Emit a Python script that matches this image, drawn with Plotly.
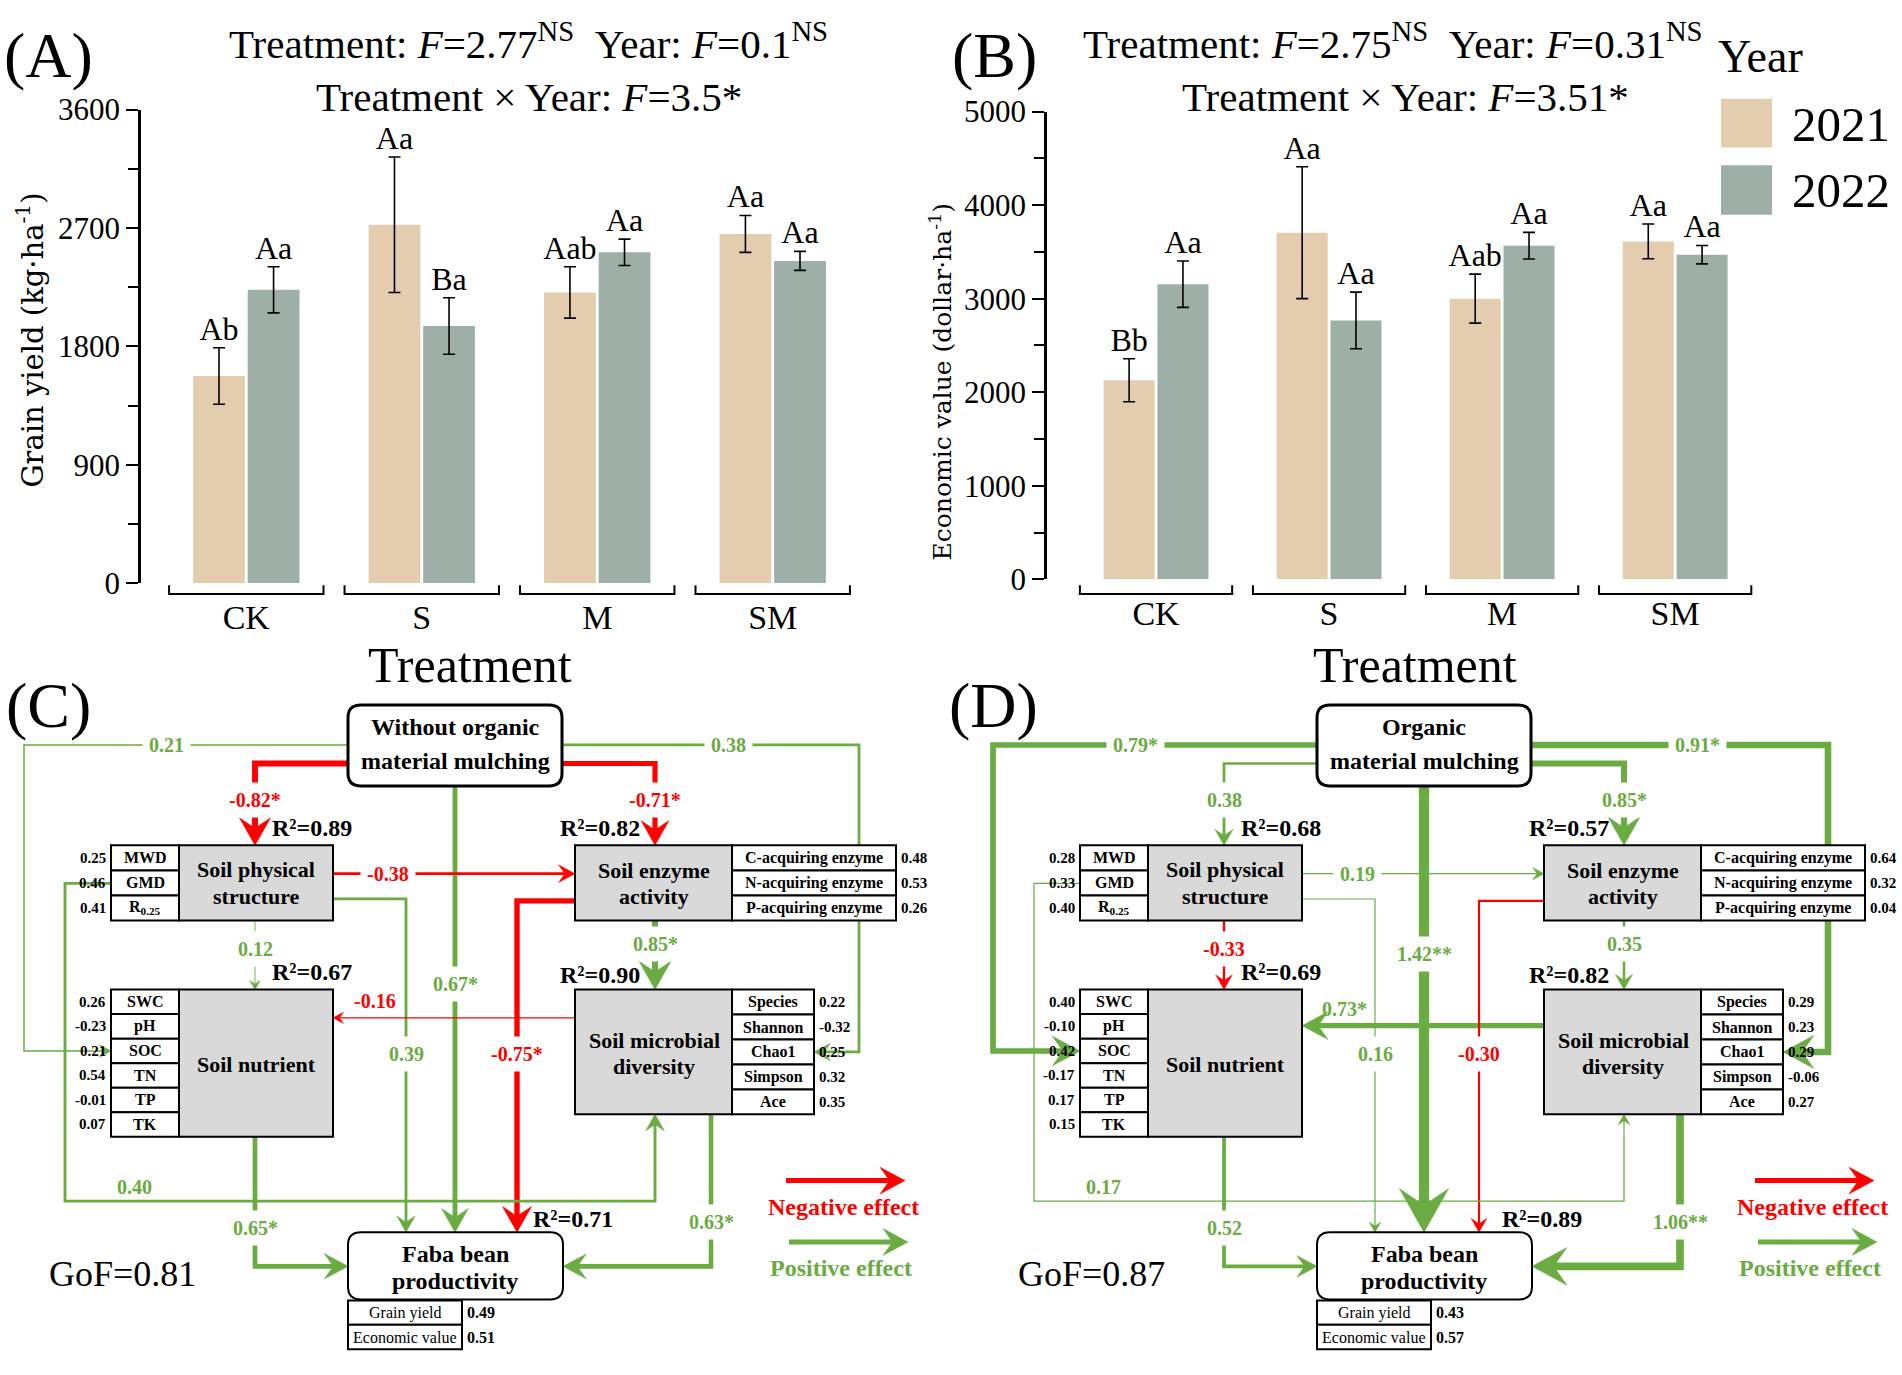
import math
import plotly.graph_objects as go

W, H = 1902, 1375
SERIF = "Liberation Serif"
GREEN = "#6aab42"
RED = "#ff0000"
C2021 = "#e3cdae"
C2022 = "#9eafa8"

# ---------------- data: bar panels (A, B) ----------------
treatments = ["CK", "S", "M", "SM"]
years = ["2021", "2022"]

grain_2021 = [1575, 2725, 2210, 2655]
grain_2021_se = [215, 515, 195, 140]
grain_2022 = [2230, 1955, 2515, 2450]
grain_2022_se = [175, 215, 100, 72]
grain_letters_2021 = ["Ab", "Aa", "Aab", "Aa"]
grain_letters_2022 = ["Aa", "Ba", "Aa", "Aa"]

econ_2021 = [2128, 3705, 3000, 3612]
econ_2021_se = [230, 705, 262, 186]
econ_2022 = [3155, 2767, 3566, 3470]
econ_2022_se = [248, 303, 142, 98]
econ_letters_2021 = ["Bb", "Aa", "Aab", "Aa"]
econ_letters_2022 = ["Aa", "Aa", "Aa", "Aa"]

# ---------------- data: path models (C, D) ----------------
path_keys = ["mulch_nut", "mulch_sps", "mulch_sea", "mulch_mic", "mulch_faba", "sps_sea", "sps_faba",
             "sps_nut", "sea_mic", "mic_nut", "sea_faba", "sps_mic", "nut_faba", "mic_faba"]
coef_c = [0.21, -0.82, -0.71, 0.38, 0.67, -0.38, 0.39, 0.12, 0.85, -0.16, -0.75, 0.40, 0.65, 0.63]
sig_c = ["", "*", "*", "", "*", "", "", "", "*", "", "*", "", "*", "*"]
coef_d = [0.79, 0.38, 0.85, 0.91, 1.42, 0.19, 0.16, -0.33, 0.35, 0.73, -0.30, 0.17, 0.52, 1.06]
sig_d = ["*", "", "*", "*", "**", "", "", "", "", "*", "", "", "", "**"]

r2_keys = ["sps", "sea", "nut", "mic", "faba"]
r2_c = [0.89, 0.82, 0.67, 0.90, 0.71]
r2_d = [0.68, 0.57, 0.69, 0.82, 0.89]

sps_items = ["MWD", "GMD", "R<sub>0.25</sub>"]
sps_load_c = [0.25, 0.46, 0.41]
sps_load_d = [0.28, 0.33, 0.40]
nut_items = ["SWC", "pH", "SOC", "TN", "TP", "TK"]
nut_load_c = [0.26, -0.23, 0.21, 0.54, -0.01, 0.07]
nut_load_d = [0.40, -0.10, 0.42, -0.17, 0.17, 0.15]
sea_items = ["C-acquiring enzyme", "N-acquiring enzyme", "P-acquiring enzyme"]
sea_load_c = [0.48, 0.53, 0.26]
sea_load_d = [0.64, 0.32, 0.04]
mic_items = ["Species", "Shannon", "Chao1", "Simpson", "Ace"]
mic_load_c = [0.22, -0.32, 0.25, 0.32, 0.35]
mic_load_d = [0.29, 0.23, 0.29, -0.06, 0.27]
faba_items = ["Grain yield", "Economic value"]
faba_load_c = [0.49, 0.51]
faba_load_d = [0.43, 0.57]
gof_c = 0.81
gof_d = 0.87


def X(x):
    return x / W


def Y(y):
    return 1 - y / H


shapes = []
notes = []


def txt(x, y, s, size, color="black", bold=False, xanchor="center", yanchor="middle",
        bg=None, family=SERIF, angle=0, pad=1):
    if bold:
        s = "<b>" + s + "</b>"
    a = dict(x=X(x), y=Y(y), xref="paper", yref="paper", text=s, showarrow=False,
             font=dict(family=family, size=size, color=color), xanchor=xanchor,
             yanchor=yanchor, textangle=angle, borderpad=pad)
    if bg:
        a["bgcolor"] = bg
    notes.append(a)


def rect(x0, y0, x1, y1, fill, lw=2):
    shapes.append(dict(type="rect", xref="paper", yref="paper", x0=X(x0), x1=X(x1),
                       y0=Y(y0), y1=Y(y1), fillcolor=fill, line=dict(color="black", width=lw)))


def rrect(x0, y0, x1, y1, r, lw):
    p = (f"M {X(x0 + r)},{Y(y0)} L {X(x1 - r)},{Y(y0)} Q {X(x1)},{Y(y0)} {X(x1)},{Y(y0 + r)} "
         f"L {X(x1)},{Y(y1 - r)} Q {X(x1)},{Y(y1)} {X(x1 - r)},{Y(y1)} "
         f"L {X(x0 + r)},{Y(y1)} Q {X(x0)},{Y(y1)} {X(x0)},{Y(y1 - r)} "
         f"L {X(x0)},{Y(y0 + r)} Q {X(x0)},{Y(y0)} {X(x0 + r)},{Y(y0)} Z")
    shapes.append(dict(type="path", xref="paper", yref="paper", path=p, fillcolor="white",
                       line=dict(color="black", width=lw)))


def arrow(pts, w, color):
    (xa, ya), (xb, yb) = pts[-2], pts[-1]
    ln = math.hypot(xb - xa, yb - ya)
    ux, uy = (xb - xa) / ln, (yb - ya) / ln
    nx, ny = -uy, ux
    L = 6 + 3.8 * w
    hw = 0.55 * L
    line_pts = pts[:-1] + [(xb - ux * L * 0.5, yb - uy * L * 0.5)]
    p = "M " + " L ".join(f"{X(x)},{Y(y)}" for x, y in line_pts)
    shapes.append(dict(type="path", xref="paper", yref="paper", path=p,
                       line=dict(color=color, width=w)))
    bx, by = xb - ux * L, yb - uy * L
    qx, qy = xb - ux * L * 0.62, yb - uy * L * 0.62
    head = (f"M {X(xb)},{Y(yb)} L {X(bx + nx * hw)},{Y(by + ny * hw)} L {X(qx)},{Y(qy)} "
            f"L {X(bx - nx * hw)},{Y(by - ny * hw)} Z")
    shapes.append(dict(type="path", xref="paper", yref="paper", path=head, fillcolor=color,
                       line=dict(color=color, width=0.5)))


fig = go.Figure()

# ---------------- bar panels ----------------
BAR_W = 0.295
OFF = BAR_W / 2 + 0.008
idx = list(range(len(treatments)))
bar_panels = [
    dict(xa="x", ya="y", v1=grain_2021, e1=grain_2021_se, v2=grain_2022, e2=grain_2022_se,
         l1=grain_letters_2021, l2=grain_letters_2022),
    dict(xa="x2", ya="y2", v1=econ_2021, e1=econ_2021_se, v2=econ_2022, e2=econ_2022_se,
         l1=econ_letters_2021, l2=econ_letters_2022),
]
for bp in bar_panels:
    for yr, vals, errs, col, lets, sgn in [(years[0], bp["v1"], bp["e1"], C2021, bp["l1"], -1),
                                          (years[1], bp["v2"], bp["e2"], C2022, bp["l2"], 1)]:
        xs = [i + sgn * OFF for i in idx]
        fig.add_trace(go.Bar(x=xs, y=vals, width=BAR_W, name=yr, xaxis=bp["xa"], yaxis=bp["ya"],
                             marker=dict(color=col, line=dict(width=0)), showlegend=False,
                             error_y=dict(type="data", array=errs, color="black", thickness=1.6, width=6)))
        fig.add_trace(go.Scatter(x=xs, y=[v + e for v, e in zip(vals, errs)], mode="text", text=lets,
                                 textposition="top center", xaxis=bp["xa"], yaxis=bp["ya"],
                                 textfont=dict(family=SERIF, size=32, color="black"),
                                 showlegend=False, cliponaxis=False, hoverinfo="skip"))
    # bracket-style category axis
    for i in idx:
        p = (f"M {i - 0.44},{Y(583)} L {i - 0.44},{Y(592)} L {i + 0.44},{Y(592)} "
             f"L {i + 0.44},{Y(583)}")
        shapes.append(dict(type="path", xref=bp["xa"], yref="paper", path=p,
                           line=dict(color="black", width=2)))

xcommon = dict(showgrid=False, zeroline=False, showline=False, ticks="outside", ticklen=4,
               tickcolor="rgba(0,0,0,0)", tickvals=idx, ticktext=treatments,
               tickfont=dict(family=SERIF, size=34, color="black"))
ycommon = dict(showgrid=False, zeroline=False, showline=True, linecolor="black", linewidth=2.5,
               ticks="outside", ticklen=12, tickwidth=2, tickcolor="black",
               tickfont=dict(family=SERIF, size=31, color="black"))

fig.update_layout(
    xaxis=dict(domain=[X(141), X(878)], range=[-0.6, 3.6], anchor="y", **xcommon),
    yaxis=dict(domain=[Y(581), Y(95)], range=[0, 3600], anchor="x",
               tickvals=[0, 900, 1800, 2700, 3600],
               minor=dict(tickvals=[450, 1350, 2250, 3150], ticks="outside", ticklen=10,
                          tickwidth=2, tickcolor="black"), **ycommon),
    xaxis2=dict(domain=[X(1047), X(1779)], range=[-0.63, 3.6], anchor="y2", **xcommon),
    yaxis2=dict(domain=[Y(577), Y(97)], range=[0, 5000], anchor="x2",
                tickvals=[0, 1000, 2000, 3000, 4000, 5000],
                minor=dict(tickvals=[500, 1500, 2500, 3500, 4500], ticks="outside", ticklen=10,
                           tickwidth=2, tickcolor="black"), **ycommon),
)

# titles, axis titles, panel letters
txt(528, 25, "Treatment: <i>F</i>=2.77<sup>NS</sup>&nbsp;&nbsp;Year: <i>F</i>=0.1<sup>NS</sup>", 41)
txt(529, 82, "Treatment × Year: <i>F</i>=3.5*", 41)
txt(1393, 25, "Treatment: <i>F</i>=2.75<sup>NS</sup>&nbsp;&nbsp;Year: <i>F</i>=0.31<sup>NS</sup>", 41)
txt(1405, 82, "Treatment × Year: <i>F</i>=3.51*", 41)
txt(470, 665, "Treatment", 50)
txt(1415, 665, "Treatment", 50)
txt(30, 332, "Grain yield (kg·ha<sup>-1</sup>)", 29, family="DejaVu Serif", angle=-90)
txt(941, 375, "Economic value (dollar·ha<sup>-1</sup>)", 25, family="DejaVu Serif", angle=-90)
for lab, (lx, ly) in zip(["(A)", "(B)", "(C)", "(D)"], [(48, 40), (994, 40), (48, 706), (993, 706)]):
    txt(lx, ly, lab, 64)

# year legend
txt(1760, 41, "Year", 46)
for yr, col, (y0, y1) in zip(years, [C2021, C2022], [(84, 134), (152, 203)]):
    shapes.append(dict(type="rect", xref="paper", yref="paper", x0=X(1721), x1=X(1772),
                       y0=Y(y0), y1=Y(y1), fillcolor=col, line=dict(width=0)))
    txt(1790, (y0 + y1) / 2 + 1, yr, 49, xanchor="left")


# ---------------- path diagrams ----------------
def diagram(dx, coefs, sigs, r2, sps_l, nut_l, sea_l, mic_l, faba_l, gof, top_text, tw):
    coef = dict(zip(path_keys, coefs))
    sig = dict(zip(path_keys, sigs))
    ym = tw["mic_nut_y"]
    xs = tw["sea_faba_x"]
    geo = {
        "mulch_nut": ([(348, 747), (24, 747), (24, 1061), (111, 1061)], (166, 747), True),
        "mulch_sps": ([(348, 766), (255, 766), (255, 850)], (255, 803), True),
        "mulch_sea": ([(562, 766), (655, 766), (655, 850)], (655, 803), True),
        "mulch_mic": ([(562, 747), (859, 747), (859, 1062), (814, 1062)], (728, 747), True),
        "mulch_faba": ([(455, 789), (455, 1247)], (455, tw["mulch_faba_ly"]), True),
        "sps_sea": ([(333, 879), (575, 879)], (388, 879), True),
        "sps_faba": ([(333, 905), (406, 905), (406, 1247)], (406, 1064), True),
        "sps_nut": ([(255, 927), (255, 998)], (255, 956), True),
        "sea_mic": ([(655, 927), (655, 998)], (655, 951), True),
        "mic_nut": ([(575, ym), (333, ym)], (375, ym - 17), False),
        "sea_faba": ([(575, 907), (xs, 907), (xs, 1247)], (xs, 1064), True),
        "sps_mic": ([(111, 889), (65, 889), (65, 1215), (655, 1215), (655, 1126)], (134, 1201), False),
        "nut_faba": ([(255, 1149), (255, 1282), (348, 1282)], (255, 1243), True),
        "mic_faba": ([(711, 1126), (711, 1282), (563, 1282)], (711, 1236), True),
    }
    for k in path_keys:
        pts, (lx, ly), gap = geo[k]
        c = coef[k]
        col = GREEN if c > 0 else RED
        w = max(0.9, 7.2 * abs(c))
        arrow([(x + dx, y) for x, y in pts], w, col)
        txt(lx + dx, ly, f"{c:.2f}{sig[k]}", 20, color=col, bold=True,
            bg="white" if gap else None, pad=6 if gap else 1)

    # latent variable boxes and indicator tables
    def table(x0, x1, y0, y1, items, loads, side, size=16, bold=True):
        n = len(items)
        hh = (y1 - y0) / n
        for i, (it, ld) in enumerate(zip(items, loads)):
            a, b = y0 + i * hh, y0 + (i + 1) * hh
            rect(x0 + dx, a, x1 + dx, b, "white")
            txt((x0 + x1) / 2 + dx, (a + b) / 2, it, size, bold=bold)
            if side == "left":
                txt(x0 + dx - 3, (a + b) / 2, f"{ld:.2f}", 15, bold=True, xanchor="right")
            else:
                txt(x1 + dx + 3, (a + b) / 2, f"{ld:.2f}", 15 if bold else 16, bold=True, xanchor="left")

    rect(179 + dx, 850, 333 + dx, 927, "#d9d9d9")
    table(111, 179, 850, 927, sps_items, sps_l, "left")
    txt(256 + dx, 875, "Soil physical", 22, bold=True)
    txt(256 + dx, 902, "structure", 22, bold=True)

    rect(575 + dx, 850, 732 + dx, 927, "#d9d9d9")
    table(732, 896, 850, 927, sea_items, sea_l, "right")
    txt(654 + dx, 876, "Soil enzyme", 22, bold=True)
    txt(654 + dx, 902, "activity", 22, bold=True)

    rect(179 + dx, 998, 333 + dx, 1149, "#d9d9d9")
    table(111, 179, 998, 1149, nut_items, nut_l, "left")
    txt(256 + dx, 1075, "Soil nutrient", 22, bold=True)

    rect(575 + dx, 998, 732 + dx, 1126, "#d9d9d9")
    table(732, 814, 998, 1126, mic_items, mic_l, "right")
    txt(654 + dx, 1050, "Soil microbial", 22, bold=True)
    txt(654 + dx, 1077, "diversity", 22, bold=True)

    rrect(348 + dx, 706, 562 + dx, 789, 13, 3)
    txt(455 + dx, 729, top_text[0], 24, bold=True)
    txt(455 + dx, 763, top_text[1], 24, bold=True)

    rrect(348 + dx, 1247, 563 + dx, 1316, 13, 2)
    txt(455 + dx, 1269, "Faba bean", 24, bold=True)
    txt(455 + dx, 1297, "productivity", 24, bold=True)
    table(348, 462, 1317, 1367, faba_items, faba_l, "right", size=16, bold=False)

    rpos = dict(zip(r2_keys, [(312, 832), (600, 832), (312, 980), (600, 983), (573, 1233)]))
    for k, v in zip(r2_keys, r2):
        txt(rpos[k][0] + dx, rpos[k][1], f"R²={v:.2f}", 24, bold=True)

    txt(122 + dx, 1290, f"GoF={gof:.2f}", 36)

    arrow([(786 + dx, 1194), (905 + dx, 1194)], 5, RED)
    txt(843 + dx, 1221, "Negative effect", 24, color=RED, bold=True)
    arrow([(789 + dx, 1257), (908 + dx, 1257)], 5, GREEN)
    txt(841 + dx, 1284, "Positive effect", 24, color=GREEN, bold=True)


diagram(0, coef_c, sig_c, r2_c, sps_load_c, nut_load_c, sea_load_c, mic_load_c, faba_load_c, gof_c,
        ["Without organic", "material mulching"],
        dict(mic_nut_y=1027, sea_faba_x=517, mulch_faba_ly=992))
diagram(969, coef_d, sig_d, r2_d, sps_load_d, nut_load_d, sea_load_d, mic_load_d, faba_load_d, gof_d,
        ["Organic", "material mulching"],
        dict(mic_nut_y=1035, sea_faba_x=510, mulch_faba_ly=961))

fig.update_layout(
    width=W, height=H, margin=dict(l=0, r=0, t=0, b=0),
    paper_bgcolor="white", plot_bgcolor="white",
    font=dict(family=SERIF, color="black"),
    shapes=shapes, annotations=notes, showlegend=False,
)

fig.write_html("out.html", config={"displayModeBar": False},
               post_script="document.body.style.margin = '0';")
